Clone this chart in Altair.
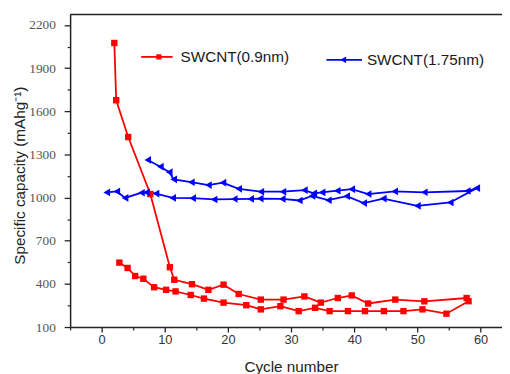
import altair as alt
import pandas as pd

series_names = ["SWCNT(0.9nm)", "SWCNT(1.75nm)"]
colors = ["#ff0000", "#0000ff"]

# SWCNT(0.9nm): one polyline (upper branch forward, then lower branch back)
red_x = [2.0, 2.3, 4.2, 7.7, 10.8, 11.5, 14.3, 16.9, 19.3, 21.7, 25.2, 28.8, 32.1, 34.7,
         37.4, 39.6, 42.2, 46.5, 51.1, 57.8, 58.1, 54.6, 50.8, 47.8, 44.7, 41.7, 39.0,
         36.1, 33.8, 31.2, 28.3, 25.2, 22.9, 19.3, 16.2, 14.1, 11.7, 10.2, 8.3, 6.6,
         5.3, 4.1, 2.8]
red_y = [2075, 1677, 1421, 1025, 516, 429, 398, 359, 395, 330, 291, 291, 313, 270,
         302, 320, 264, 291, 279, 302, 280, 193, 223, 211, 211, 211, 211,
         211, 234, 211, 245, 223, 252, 270, 298, 323, 348, 359, 377, 436,
         455, 511, 548]

# SWCNT(1.75nm): one polyline (upper branch forward, then lower branch back)
blue_x = [7.3, 9.3, 10.7, 11.4, 14.2, 16.9, 19.2, 21.7, 25.2, 28.7, 32.1, 33.6, 34.9,
          37.3, 39.6, 42.2, 46.4, 51.1, 57.9, 59.4, 55.2, 50.0, 44.6, 41.5, 38.8, 35.9,
          33.3, 31.3, 28.6, 25.1, 23.6, 21.0, 17.8, 14.4, 11.25, 8.6, 7.1, 6.3, 3.7,
          2.4, 0.8]
blue_y = [1262, 1215, 1177, 1127, 1107, 1087, 1104, 1061, 1041, 1041, 1052, 1030, 1036,
          1048, 1059, 1025, 1043, 1037, 1046, 1066, 966, 943, 993, 962, 1010, 982,
          1012, 980, 991, 993, 991, 990, 987, 996, 998, 1028, 1036, 1034, 998,
          1043, 1036]

x_ticks = [0, 10, 20, 30, 40, 50, 60]
x_minor = [-5, 5, 15, 25, 35, 45, 55]
y_ticks = [100, 400, 700, 1000, 1300, 1600, 1900, 2200]
y_minor = [250, 550, 850, 1150, 1450, 1750, 2050]

red_df = pd.DataFrame({"cycle": red_x, "cap": red_y, "idx": list(range(len(red_x)))})
blue_df = pd.DataFrame({"cycle": blue_x, "cap": blue_y, "idx": list(range(len(blue_x)))})

W, H = 438, 317
xs = alt.Scale(domain=[-5, 63.4], nice=False, zero=False)
ys = alt.Scale(domain=[100, 2273], nice=False, zero=False)
AX = "#222222"

x_major = alt.Axis(orient="bottom", values=x_ticks, tickSize=5, tickWidth=1.3, tickColor=AX,
                   domainColor=AX, domainWidth=1.5, labelFont="Liberation Sans",
                   labelFontSize=13, labelColor="#333333", labelPadding=2, grid=False,
                   labelFlush=False, format="d", title="Cycle number",
                   titleFont="Liberation Sans", titleFontSize=15.5, titleFontWeight="normal",
                   titleColor="#222222", titleX=224, titleY=45, titleBaseline="alphabetic")
y_major = alt.Axis(orient="left", values=y_ticks, tickSize=6, tickWidth=1.3, tickColor=AX,
                   domainColor=AX, domainWidth=1.5, labelFont="'Liberation Serif', serif",
                   labelFontSize=13.5, labelColor="#555555", labelPadding=9, grid=False,
                   labelFlush=False, format="d", title="Specific capacity (mAhg⁻¹)",
                   titleFont="Liberation Sans", titleFontSize=15.5, titleFontWeight="normal",
                   titleColor="#222222", titleAngle=270, titleX=-51, titleY=163,
                   titleBaseline="middle")
x_min_ax = alt.Axis(orient="bottom", values=x_minor, tickSize=3, tickWidth=1.2, tickColor=AX,
                    labels=False, domain=False, grid=False, title="")
y_min_ax = alt.Axis(orient="left", values=y_minor, tickSize=3, tickWidth=1.2, tickColor=AX,
                    labels=False, domain=False, grid=False, title="")

minor = alt.Chart(red_df).mark_point(opacity=0).encode(
    x=alt.X("cycle:Q", scale=xs, axis=x_min_ax),
    y=alt.Y("cap:Q", scale=ys, axis=y_min_ax))

red_line = alt.Chart(red_df).mark_line(color=colors[0], strokeWidth=1.8).encode(
    x=alt.X("cycle:Q", scale=xs, axis=x_major),
    y=alt.Y("cap:Q", scale=ys, axis=y_major),
    order="idx:Q")
red_pts = alt.Chart(red_df).mark_point(shape="square", filled=True, size=42, opacity=1,
                                       color=colors[0]).encode(
    x=alt.X("cycle:Q", scale=xs, axis=None), y=alt.Y("cap:Q", scale=ys, axis=None))

blue_line = alt.Chart(blue_df).mark_line(color=colors[1], strokeWidth=1.8).encode(
    x=alt.X("cycle:Q", scale=xs, axis=None),
    y=alt.Y("cap:Q", scale=ys, axis=None),
    order="idx:Q")
blue_pts = alt.Chart(blue_df).mark_point(shape="triangle-left", filled=True, size=60,
                                         opacity=1, color=colors[1]).encode(
    x=alt.X("cycle:Q", scale=xs, axis=None), y=alt.Y("cap:Q", scale=ys, axis=None))

one = pd.DataFrame({"a": [0]})
top_frame = alt.Chart(one).mark_rule(color=AX, strokeWidth=1.5).encode(
    x=alt.value(0), x2=alt.value(W), y=alt.value(0))

# manual legend
leg = []
leg_specs = [
    (series_names[0], colors[0], "square", 28, 72, 104, 90, 112, 43),
    (series_names[1], colors[1], "triangle-left", 45, 260, 296, 277, 301, 46),
]
for name, col, shp, sz, x1, x2, xm, xt, yy in leg_specs:
    d = pd.DataFrame({"label": [name]})
    leg.append(alt.Chart(d).mark_rule(color=col, strokeWidth=1.8).encode(
        x=alt.value(x1), x2=alt.value(x2), y=alt.value(yy)))
    leg.append(alt.Chart(d).mark_point(shape=shp, filled=True, size=sz, opacity=1,
                                       color=col).encode(x=alt.value(xm), y=alt.value(yy)))
    leg.append(alt.Chart(d).mark_text(align="left", baseline="middle", fontSize=15.5,
                                      font="Liberation Sans", color="#1a1a1a").encode(
        x=alt.value(xt), y=alt.value(yy), text="label:N"))

chart = alt.layer(minor, top_frame, red_line, blue_line, red_pts, blue_pts, *leg).resolve_axis(
    x="independent", y="independent").properties(
    width=W, height=H, autosize=alt.AutoSizeParams(type="none"),
    padding={"left": 63, "top": 4, "right": 0, "bottom": 45}).configure_view(stroke=None)

chart.save("out.html", embed_options={"renderer": "svg", "actions": False})
